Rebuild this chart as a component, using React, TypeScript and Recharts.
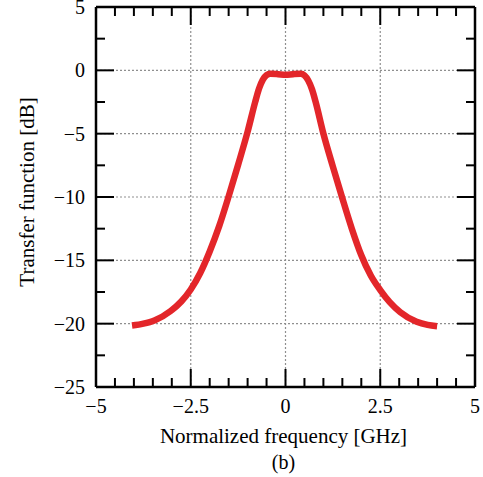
import React from "react";
import * as R from "recharts";
import { LineChart, Line, XAxis, YAxis, CartesianGrid, Label } from "recharts";

const freq = [-4.05, -3.75, -3.46, -3.03, -2.75, -2.5, -2.25, -2.0, -1.75, -1.5, -1.25, -1.0, -0.8, -0.7, -0.6, -0.5, -0.4, -0.2, 0, 0.2, 0.4, 0.5, 0.6, 0.7, 0.8, 1.0, 1.25, 1.5, 1.75, 2.0, 2.25, 2.5, 2.75, 3.03, 3.46, 3.75, 4.0];
const gain = [-20.15, -20.0, -19.75, -19.0, -18.25, -17.3, -16.0, -14.3, -12.3, -9.95, -7.45, -4.85, -2.5, -1.45, -0.75, -0.38, -0.27, -0.3, -0.35, -0.3, -0.27, -0.4, -0.8, -1.5, -2.55, -5.0, -7.6, -10.1, -12.5, -14.6, -16.2, -17.35, -18.3, -19.1, -19.85, -20.1, -20.2];

const xMajor = [-5, -2.5, 0, 2.5, 5];
const xMinor = [-5, -4.5, -4, -3.5, -3, -2.5, -2, -1.5, -1, -0.5, 0, 0.5, 1, 1.5, 2, 2.5, 3, 3.5, 4, 4.5, 5];
const yMajor = [-25, -20, -15, -10, -5, 0, 5];
const yMinor = [-25, -22.5, -20, -17.5, -15, -12.5, -10, -7.5, -5, -2.5, 0, 2.5, 5];

const data = freq.map((f, i) => ({ f, g: gain[i] }));

const FONT = "'Liberation Serif', 'DejaVu Serif', serif";
const isMajor = (arr: number[], v: number) => arr.some((m) => Math.abs(m - v) < 1e-9);
const fmt = (v: number) => (v < 0 ? "\u2212" + Math.abs(v) : String(v));
const MAJ = 18;
const MIN = 9;

const usePlot = (): any => {
  const hook = (R as any).usePlotArea;
  const off = (R as any).useOffset;
  const a = hook ? hook() : null;
  const b = off ? off() : null;
  return { a, b };
};

const BottomTick = (p: any) => {
  const { x, y, payload } = p;
  const major = isMajor(xMajor, payload.value);
  return (
    <g>
      <line x1={x} y1={y} x2={x} y2={y - (major ? MAJ : MIN)} stroke="#000" strokeWidth={2} />
      {major && (
        <text x={x} y={y + 26} textAnchor="middle" fontSize={20} fontFamily={FONT} fill="#000">
          {fmt(payload.value)}
        </text>
      )}
    </g>
  );
};

const TopTick = (p: any) => {
  const { x, y, payload } = p;
  const major = isMajor(xMajor, payload.value);
  return <line x1={x} y1={y} x2={x} y2={y + (major ? MAJ : MIN)} stroke="#000" strokeWidth={2} />;
};

const LeftTick = (p: any) => {
  const { y, payload } = p;
  const { a, b } = usePlot();
  const x = a ? a.x : b ? b.left : p.x;
  const major = isMajor(yMajor, payload.value);
  return (
    <g>
      <line x1={x} y1={y} x2={x + (major ? MAJ : MIN)} y2={y} stroke="#000" strokeWidth={2} />
      {major && (
        <text x={x - 11} y={y + 7} textAnchor="end" fontSize={20} fontFamily={FONT} fill="#000">
          {fmt(payload.value)}
        </text>
      )}
    </g>
  );
};

const RightTick = (p: any) => {
  const { y, payload } = p;
  const { a, b } = usePlot();
  const x = a ? a.x + a.width : b ? 483 - b.right : p.x;
  const major = isMajor(yMajor, payload.value);
  return <line x1={x} y1={y} x2={x - (major ? MAJ : MIN)} y2={y} stroke="#000" strokeWidth={2} />;
};

const axisLine = { stroke: "#000", strokeWidth: 2.5 };

export default function App() {
  return (
    <div style={{ position: "absolute", left: 0, top: 0, background: "#fff" }}>
      <LineChart width={483} height={477} data={data} margin={{ top: 6, right: 7, bottom: 0, left: 0 }}>
        <XAxis xAxisId="g" dataKey="f" type="number" domain={[-5, 5]} ticks={xMajor} hide height={0} allowDataOverflow />
        <YAxis yAxisId="g" type="number" domain={[-25, 5]} ticks={yMajor} hide width={0} allowDataOverflow />
        <CartesianGrid xAxisId="g" yAxisId="g" stroke="#8f8f8f" strokeDasharray="2 2" strokeWidth={1.2} />
        <XAxis
          xAxisId="b"
          orientation="bottom"
          dataKey="f"
          type="number"
          domain={[-5, 5]}
          ticks={xMinor}
          interval={0}
          height={90}
          tickSize={0}
          tickMargin={0}
          tickLine={false}
          axisLine={axisLine}
          tick={<BottomTick />}
          allowDataOverflow
        >
          <Label
            content={(props: any) => {
              const vb = props.viewBox;
              const cx = vb.x + vb.width / 2;
              return (
                <g>
                  <text x={cx - 2} y={vb.y + 56} textAnchor="middle" fontSize={21} fontFamily={FONT} fill="#000">
                    Normalized frequency [GHz]
                  </text>
                  <text x={cx - 2} y={vb.y + 82} textAnchor="middle" fontSize={20} fontFamily={FONT} fill="#000">
                    (b)
                  </text>
                </g>
              );
            }}
          />
        </XAxis>
        <XAxis
          xAxisId="t"
          orientation="top"
          dataKey="f"
          type="number"
          domain={[-5, 5]}
          ticks={xMinor}
          interval={0}
          height={1}
          tickSize={0}
          tickMargin={0}
          tickLine={false}
          axisLine={axisLine}
          tick={<TopTick />}
          allowDataOverflow
        />
        <YAxis
          yAxisId="l"
          orientation="left"
          type="number"
          domain={[-25, 5]}
          ticks={yMinor}
          interval={0}
          width={96}
          tickSize={0}
          tickMargin={0}
          tickLine={false}
          axisLine={axisLine}
          tick={<LeftTick />}
          allowDataOverflow
        >
          <Label
            content={(props: any) => {
              const vb = props.viewBox;
              const cy = vb.y + vb.height / 2 - 5;
              const tx = 34;
              return (
                <text
                  x={tx}
                  y={cy}
                  transform={`rotate(-90 ${tx} ${cy})`}
                  textAnchor="middle"
                  fontSize={21}
                  fontFamily={FONT}
                  fill="#000"
                >
                  Transfer function [dB]
                </text>
              );
            }}
          />
        </YAxis>
        <YAxis
          yAxisId="r"
          orientation="right"
          type="number"
          domain={[-25, 5]}
          ticks={yMinor}
          interval={0}
          width={1}
          tickSize={0}
          tickMargin={0}
          tickLine={false}
          axisLine={axisLine}
          tick={<RightTick />}
          allowDataOverflow
        />
        <Line
          xAxisId="g"
          yAxisId="g"
          dataKey="g"
          type="monotone"
          stroke="#e3262a"
          strokeWidth={6.5}
          dot={false}
          isAnimationActive={false}
        />
      </LineChart>
    </div>
  );
}
